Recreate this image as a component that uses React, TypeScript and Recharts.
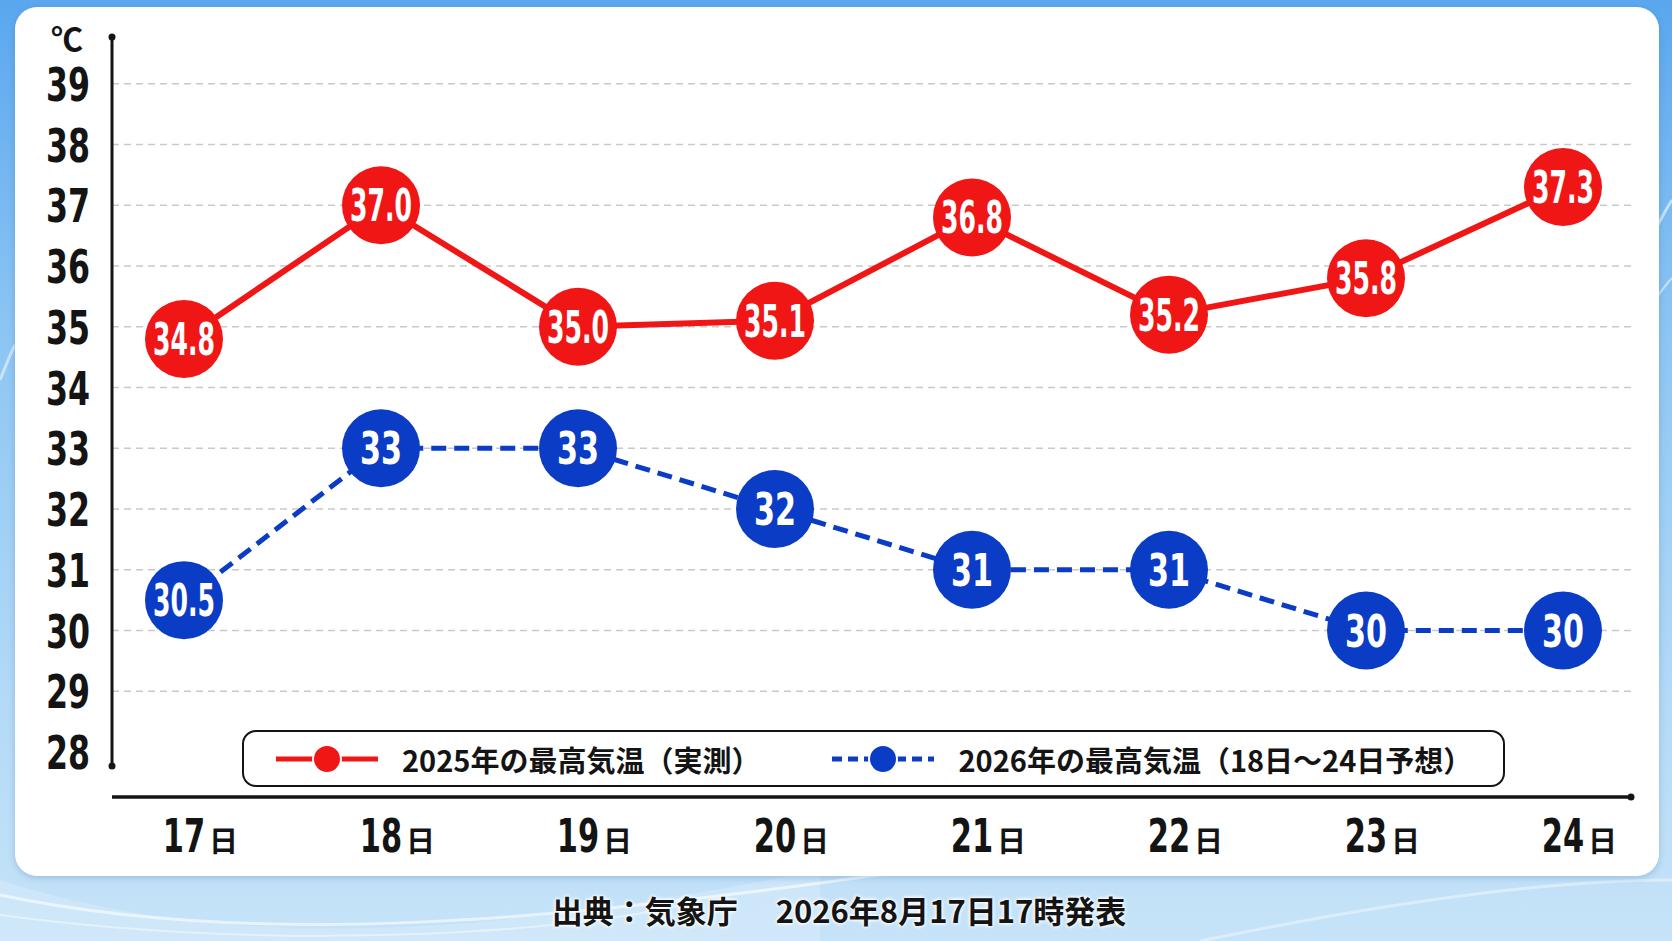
import React from "react"
import { LineChart, Line, XAxis, YAxis, CartesianGrid, Legend, ReferenceLine } from "recharts"

// data
const days = ["17", "18", "19", "20", "21", "22", "23", "24"]
const max2025 = [34.8, 37.0, 35.0, 35.1, 36.8, 35.2, 35.8, 37.3]
const max2026 = [30.5, 33, 33, 32, 31, 31, 30, 30]
const yTicks = [28, 29, 30, 31, 32, 33, 34, 35, 36, 37, 38, 39]
const gridValues = yTicks.filter((t) => t > 28)

const name2025 = "2025年の最高気温（実測）"
const name2026 = "2026年の最高気温（18日～24日予想）"
const unitLabel = "℃"
const daySuffix = "日"
const sourceLabel = "出典：気象庁"
const issuedLabel = "2026年8月17日17時発表"

const RED = "#f01616"
const BLUE = "#0b3cc6"
const INK = "#141414"
const NUM = "'Liberation Sans Narrow', 'DejaVu Sans Condensed', 'DejaVu Sans', sans-serif"
const JP = "'Noto Sans CJK JP', 'Noto Sans', sans-serif"

const W = 1672
const H = 941
const xAxisBase = 27.26

const data = days.map((d, i) => ({ day: d, y2025: max2025[i], y2026: max2026[i] }))

// narrow digits: squeeze each number to the width the reference uses
const numWidth = (s: string) => (s.length > 2 ? 62 : 42)

function ValueDot(props: any) {
  const { cx, cy, value, color, decimals } = props
  if (cx == null || cy == null) return null
  const text = decimals ? Number(value).toFixed(1) : String(value)
  return (
    <g>
      <circle cx={cx} cy={cy} r={39} fill={color} />
      <text
        x={cx}
        y={cy}
        dy={16}
        textAnchor="middle"
        fill="#fff"
        fontFamily={NUM}
        fontWeight={700}
        fontSize={45}
        textLength={numWidth(text)}
        lengthAdjust="spacingAndGlyphs"
      >
        {text}
      </text>
    </g>
  )
}

function DayTick(props: any) {
  const { x, y, payload } = props
  return (
    <g>
      <g transform={`translate(${x}, ${y + 86}) scale(0.72, 1)`}>
        <text x={0} y={0} textAnchor="middle" fill={INK} fontWeight={700} fontFamily={NUM} fontSize={47}>
          {payload.value}
        </text>
      </g>
      <text x={x + 25} y={y + 86} fill={INK} fontWeight={700} fontFamily={JP} fontSize={29}>
        {daySuffix}
      </text>
    </g>
  )
}

function ValueTick(props: any) {
  const { x, y, payload } = props
  return (
    <text
      x={x}
      y={y}
      dy={17}
      textAnchor="end"
      fill={INK}
      fontWeight={700}
      fontFamily={NUM}
      fontSize={47}
      textLength={44}
      lengthAdjust="spacingAndGlyphs"
    >
      {payload.value}
    </text>
  )
}

function UnitLabel(props: any) {
  const { x, y, width, height } = props.viewBox
  return (
    <g>
      <text x={x + width - 45} y={y + 14} textAnchor="middle" fontFamily={JP} fontSize={32} fontWeight={700} fill={INK}>
        {unitLabel}
      </text>
      <circle cx={x + width} cy={y} r={3.5} fill={INK} />
      <circle cx={x + width} cy={y + height} r={3.5} fill={INK} />
    </g>
  )
}

function AxisEnd(props: any) {
  const { x, y, width } = props.viewBox
  return <circle cx={x + width} cy={y} r={3.5} fill={INK} />
}

function LegendBox(props: any) {
  const items = props.payload || []
  return (
    <div
      style={{
        boxSizing: "border-box",
        width: 1263,
        height: 57,
        border: `2.5px solid ${INK}`,
        borderRadius: 14,
        background: "#fff",
        display: "flex",
        alignItems: "center",
        paddingLeft: 30,
      }}
    >
      {items.map((entry: any, i: number) => (
        <div key={i} style={{ display: "flex", alignItems: "center", marginRight: i === 0 ? 70 : 0 }}>
          <svg width={106} height={32}>
            <line
              x1={2}
              y1={16}
              x2={104}
              y2={16}
              stroke={entry.color}
              strokeWidth={5}
              strokeDasharray={entry.payload?.strokeDasharray ? "10 6" : undefined}
            />
            <circle cx={53} cy={16} r={14} fill={entry.color} stroke="#fff" strokeWidth={2} />
          </svg>
          <span style={{ marginLeft: 22, fontFamily: JP, fontWeight: 700, fontSize: 29, color: INK, whiteSpace: "nowrap" }}>
            {entry.value}
          </span>
        </div>
      ))}
    </div>
  )
}

export default function App() {
  return (
    <div
      style={{
        position: "relative",
        width: W,
        height: H,
        overflow: "hidden",
        background: "linear-gradient(180deg, #5aa7ef 0%, #8cc5f3 35%, #b4daf7 75%, #c6e3f8 100%)",
      }}
    >
      <style>{"body{margin:0}"}</style>
      <svg width={W} height={H} style={{ position: "absolute", left: 0, top: 0 }}>
        <path d="M0,880 C250,960 520,930 820,870 L820,941 L0,941 Z" fill="#ffffff" opacity={0.18} />
        <path d="M0,895 C260,950 560,920 900,872" fill="none" stroke="#ffffff" strokeWidth={3} opacity={0.6} />
        <path d="M0,915 C300,955 600,930 700,900" fill="none" stroke="#ffffff" strokeWidth={2} opacity={0.45} />
        <path d="M1200,941 C1400,900 1560,880 1672,880" fill="none" stroke="#ffffff" strokeWidth={3} opacity={0.4} />
        <path d="M1640,260 C1655,230 1665,210 1672,200" fill="none" stroke="#ffffff" strokeWidth={3} opacity={0.55} />
        <path d="M1640,320 C1655,300 1665,285 1672,278" fill="none" stroke="#ffffff" strokeWidth={2} opacity={0.5} />
        <path d="M0,380 C8,360 12,350 15,345" fill="none" stroke="#ffffff" strokeWidth={3} opacity={0.5} />
      </svg>
      <div
        style={{
          position: "absolute",
          left: 15,
          top: 7,
          width: 1644,
          height: 869,
          background: "#fff",
          borderRadius: 22,
          boxShadow: "0 2px 6px rgba(40,90,150,0.25)",
        }}
      />
      <div style={{ position: "absolute", left: 0, top: 0 }}>
        <LineChart width={W} height={H} data={data} margin={{ top: 37, right: 41, bottom: 75, left: 0 }}>
          <CartesianGrid
            vertical={false}
            horizontalValues={gridValues}
            stroke="#c9c9c9"
            strokeDasharray="7 5"
            strokeWidth={1.5}
          />
          <XAxis
            dataKey="day"
            padding={{ left: 72, right: 68 }}
            axisLine={false}
            tickLine={false}
            tickSize={0}
            tickMargin={0}
            height={100}
            interval={0}
            tick={<DayTick />}
          />
          <YAxis
            type="number"
            domain={[27.77, 39.77]}
            ticks={yTicks}
            allowDataOverflow
            width={112}
            axisLine={{ stroke: INK, strokeWidth: 3 }}
            tickLine={false}
            tickSize={0}
            tickMargin={22}
            tick={<ValueTick />}
            label={<UnitLabel />}
          />
          <ReferenceLine y={xAxisBase} ifOverflow="visible" stroke={INK} strokeWidth={3.5} label={<AxisEnd />} />
          <Legend
            layout="horizontal"
            verticalAlign="middle"
            align="center"
            content={<LegendBox />}
            wrapperStyle={{ left: 242, top: 730, width: 1263, height: 57 }}
          />
          <Line
            name={name2025}
            dataKey="y2025"
            stroke={RED}
            strokeWidth={6}
            isAnimationActive={false}
            activeDot={false}
            dot={(p: any) => <ValueDot key={`r${p.index}`} {...p} color={RED} decimals />}
          />
          <Line
            name={name2026}
            dataKey="y2026"
            stroke={BLUE}
            strokeWidth={5}
            strokeDasharray="15 8"
            isAnimationActive={false}
            activeDot={false}
            dot={(p: any) => <ValueDot key={`b${p.index}`} {...p} color={BLUE} />}
          />
        </LineChart>
      </div>
      <div
        style={{
          position: "absolute",
          left: 0,
          top: 887,
          width: W,
          paddingLeft: 6,
          boxSizing: "border-box",
          textAlign: "center",
          fontFamily: JP,
          fontWeight: 700,
          fontSize: 31,
          color: INK,
          whiteSpace: "pre",
          textShadow: "0 0 4px #fff, 0 0 4px #fff, 0 0 2px #fff",
        }}
      >
        {sourceLabel + "　 " + issuedLabel}
      </div>
    </div>
  )
}
